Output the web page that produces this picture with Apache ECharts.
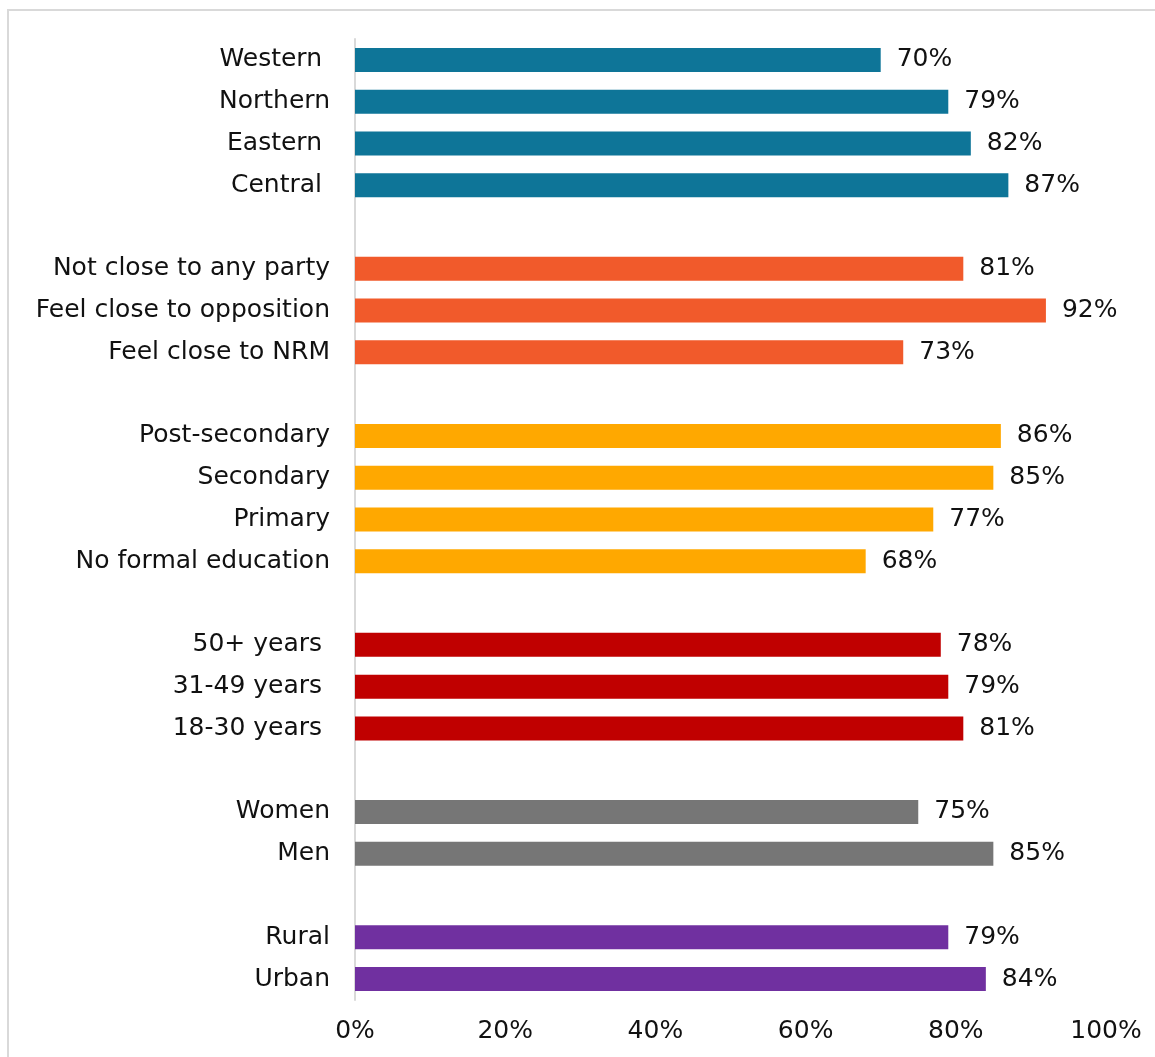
<!DOCTYPE html>
<html>
<head>
<meta charset="utf-8">
<script src="https://cdn.jsdelivr.net/npm/echarts@6/dist/echarts.min.js"></script>
<style>
html,body{margin:0;padding:0;background:#fff;}
#chart{width:1155px;height:1057px;}
</style>
</head>
<body>
<div id="chart"></div>
<script>
// Groups (top to bottom), values in percent
const regionCats = ['Western ', 'Northern', 'Eastern ', 'Central '];
const regionVals = [70, 79, 82, 87];
const partyCats = ['Not close to any party', 'Feel close to opposition', 'Feel close to NRM'];
const partyVals = [81, 92, 73];
const eduCats = ['Post-secondary', 'Secondary', 'Primary', 'No formal education'];
const eduVals = [86, 85, 77, 68];
const ageCats = ['50+ years ', '31-49 years ', '18-30 years '];
const ageVals = [78, 79, 81];
const genderCats = ['Women', 'Men'];
const genderVals = [75, 85];
const locCats = ['Rural', 'Urban'];
const locVals = [79, 84];
const xTicks = ['0%', '20%', '40%', '60%', '80%', '100%'];

const groups = [
  {cats: regionCats, vals: regionVals, color: '#0E7598'},
  {cats: partyCats, vals: partyVals, color: '#F15A2B'},
  {cats: eduCats, vals: eduVals, color: '#FFA800'},
  {cats: ageCats, vals: ageVals, color: '#C00000'},
  {cats: genderCats, vals: genderVals, color: '#767676'},
  {cats: locCats, vals: locVals, color: '#7030A0'}
];

const categories = [];
const data = [];
groups.forEach((g, gi) => {
  if (gi > 0) {
    categories.push(' '.repeat(gi) + '\u200b');
    data.push({value: null});
  }
  g.cats.forEach((c, i) => {
    categories.push(c);
    data.push({value: g.vals[i], itemStyle: {color: g.color}});
  });
});

const FONT = 'DejaVu Sans';
const FS = 25;
const chart = echarts.init(document.getElementById('chart'), null, {renderer: 'canvas'});
chart.setOption({
  animation: false,
  backgroundColor: '#fff',
  graphic: [{
    type: 'rect', z: -1,
    shape: {x: 8, y: 10, width: 1200, height: 1100},
    style: {fill: 'none', stroke: '#d9d9d9', lineWidth: 2}
  }],
  grid: {left: 355, right: 49, top: 39, bottom: 57, containLabel: false},
  xAxis: {
    type: 'value', min: 0, max: 100, interval: 20,
    axisLine: {show: false}, axisTick: {show: false}, splitLine: {show: false},
    axisLabel: {
      margin: 19, fontFamily: FONT, fontSize: FS, color: '#111',
      formatter: v => xTicks[Math.round(v / 20)]
    }
  },
  yAxis: {
    type: 'category', inverse: true, data: categories,
    axisLine: {show: true, lineStyle: {color: '#d9d9d9', width: 2}},
    axisTick: {show: false},
    axisLabel: {margin: 25, fontFamily: FONT, fontSize: FS, color: '#111'}
  },
  series: [{
    type: 'bar', data: data, barWidth: 24,
    label: {
      show: true, position: 'right', distance: 16,
      fontFamily: FONT, fontSize: FS, color: '#111',
      formatter: p => p.value == null ? '' : p.value + '%'
    }
  }]
});
</script>
</body>
</html>
